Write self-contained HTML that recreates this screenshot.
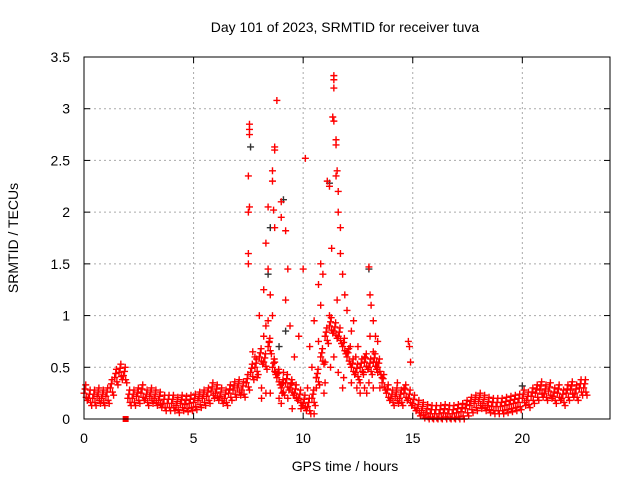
<!DOCTYPE html>
<html><head><meta charset="utf-8"><style>
body{margin:0;background:#fff;}
svg{display:block;font-family:"Liberation Sans",sans-serif;}
</style></head><body>
<svg id="chart" width="640" height="480">
<text x="345" y="32" font-size="14" text-anchor="middle">Day 101 of 2023, SRMTID for receiver tuva</text>
<text x="345" y="471" font-size="14" text-anchor="middle">GPS time / hours</text>
<text transform="translate(18,238) rotate(-90)" font-size="14" text-anchor="middle">SRMTID / TECUs</text>
<g id="grid"></g><g id="marks"></g>
<rect x="84" y="57" width="526" height="362" fill="none" stroke="#000" stroke-width="1"/>
</svg>
<script>
const xTicks=[0,5,10,15,20];
const yTicks=[0,0.5,1,1.5,2,2.5,3,3.5];
const yTickLabels=["0","0.5","1","1.5","2","2.5","3","3.5"];
const baseStart=0, baseStep=0.2;
const baseValues=[0.25,0.2,0.2,0.22,0.2,0.22,0.3,0.4,0.45,0.42,0.2,0.2,0.22,0.25,0.2,0.22,0.2,0.18,0.15,0.15,0.15,0.13,0.15,0.14,0.15,0.16,0.18,0.2,0.22,0.27,0.25,0.22,0.2,0.25,0.28,0.3,0.28,0.35,0.45,0.5,0.6,0.55,0.7,0.5,0.4,0.3,0.35,0.3,0.25,0.2,0.15,0.12,0.2,0.4,0.6,0.8,0.9,0.85,0.8,0.7,0.6,0.5,0.45,0.5,0.55,0.5,0.55,0.5,0.35,0.25,0.2,0.22,0.2,0.25,0.2,0.15,0.1,0.08,0.06,0.05,0.05,0.05,0.06,0.05,0.05,0.06,0.07,0.1,0.13,0.15,0.17,0.15,0.13,0.12,0.12,0.12,0.13,0.14,0.15,0.16,0.2,0.18,0.22,0.25,0.28,0.25,0.27,0.22,0.25,0.2,0.25,0.28,0.25,0.3,0.3];
const spikeTimes=[7.55,7.55,7.55,7.5,7.55,7.5,7.5,7.5,8.0,8.2,8.3,8.4,8.4,8.6,8.6,8.7,8.7,8.8,8.65,8.7,8.6,8.5,9.0,9.0,9.2,9.3,9.2,9.4,8.4,8.2,9.6,9.8,10.0,10.1,10.3,10.5,10.7,10.8,10.9,11.1,11.2,11.3,11.4,11.4,11.4,11.35,11.4,11.5,11.5,11.55,11.5,11.6,11.6,11.7,11.7,11.8,11.9,12.0,12.2,12.3,13.0,13.05,13.1,13.2,13.3,13.2,14.8,14.85,14.9,12.5,12.8,9.5,10.5,8.1,8.3,9.0,7.8,8.9,9.1,10.2,10.6,11.0,12.6,12.9,13.4,13.5,
7.4,7.7,7.9,8.1,8.3,8.5,8.7,8.9,9.1,9.3,9.5,9.7,9.9,10.4,10.6,10.8,11.0,11.2,11.4,11.6,11.8,12.0,12.2,12.4,12.6,12.8,13.0,13.2,13.4,13.6,8.45,8.75,9.05,10.7,10.95,11.25,11.55,11.85,12.15,12.45,12.75,13.05,13.35,14.6,14.3];
const spikeValues=[2.85,2.8,2.75,2.35,2.05,2.0,1.6,1.5,1.0,1.25,1.7,2.05,1.45,2.4,2.3,2.6,2.63,3.08,2.02,1.85,1.0,1.2,2.1,1.95,1.82,1.45,1.15,0.9,0.95,0.8,0.6,0.8,1.45,2.52,0.7,0.95,1.3,1.5,1.4,2.3,2.25,1.65,3.32,3.28,3.2,2.92,2.88,2.7,2.65,2.4,2.35,2.2,2.0,1.85,1.6,1.4,1.2,1.05,0.85,0.95,1.47,1.2,1.1,0.95,0.8,0.65,0.75,0.7,0.55,0.7,0.3,0.1,0.05,0.2,0.25,0.15,0.6,0.45,0.35,0.3,0.4,0.55,0.35,0.25,0.45,0.3,
0.35,0.65,0.4,0.3,0.9,0.25,0.55,0.2,0.45,0.2,0.35,0.2,0.1,0.5,0.3,1.1,0.35,1.0,0.6,0.45,0.3,0.65,0.35,0.6,0.25,0.6,0.35,0.3,0.75,0.4,0.75,0.45,0.25,0.75,0.25,0.5,1.15,0.4,0.7,0.3,0.45,0.8,0.55,0.3,0.35];
const blackTimes=[7.6,8.4,8.5,9.1,9.2,11.2,13.0,20.0,8.9];
const blackValues=[2.63,1.4,1.85,2.12,0.85,2.28,1.45,0.32,0.7];
const sx=t=>84+t*(526/24), sy=v=>419-v*(362/3.5);
const NS="http://www.w3.org/2000/svg";
const grid=document.getElementById('grid'), marks=document.getElementById('marks');
function ln(p,x1,y1,x2,y2,st,dash){const l=document.createElementNS(NS,'line');l.setAttribute('x1',x1);l.setAttribute('y1',y1);l.setAttribute('x2',x2);l.setAttribute('y2',y2);l.setAttribute('stroke',st);if(dash)l.setAttribute('stroke-dasharray',dash);p.appendChild(l);return l;}
xTicks.forEach(t=>{const x=sx(t);
 if(t>0){const g=ln(grid,x,57,x,419,'#aaa','2,3');
 
 }
 ln(grid,x,419,x,413,'#000');ln(grid,x,57,x,63,'#000');
 const tx=document.createElementNS(NS,'text');tx.setAttribute('x',x);tx.setAttribute('y',443);tx.setAttribute('font-size','14');tx.setAttribute('text-anchor','middle');tx.textContent=t;
 
 
 grid.appendChild(tx);});
yTicks.forEach((v,i)=>{const y=sy(v);
 if(v>0&&v<3.5){const g=ln(grid,84,y,610,y,'#aaa','2,3');
 
 }
 ln(grid,84,y,90,y,'#000');ln(grid,610,y,604,y,'#000');
 const tx=document.createElementNS(NS,'text');tx.setAttribute('x',70);tx.setAttribute('y',y+5);tx.setAttribute('font-size','14');tx.setAttribute('text-anchor','end');tx.textContent=yTickLabels[i];
 
 
 grid.appendChild(tx);});
function plus(t,v,c){const x=sx(t),y=sy(v);const p=document.createElementNS(NS,'path');
 p.setAttribute('d',`M${x-3.5},${y}H${x+3.5}M${x},${y-3.5}V${y+3.5}`);p.setAttribute('stroke',c);p.setAttribute('stroke-width','1.4');p.setAttribute('fill','none');
 
 
 marks.appendChild(p);}
baseValues.forEach((v,i)=>{const t=baseStart+i*baseStep;
 plus(t,v,'red');plus(t+0.1,Math.max(0,v-0.04),'red');plus(t+0.05,v+0.04,'red');plus(t+0.15,Math.max(0,v-0.07),'red');plus(t+0.08,v+0.08,'red');});
blackTimes.forEach((t,i)=>plus(t,blackValues[i],'#333'));
spikeTimes.forEach((t,i)=>plus(t,spikeValues[i],'red'));
const sq=document.createElementNS(NS,'rect');sq.setAttribute('x',sx(1.9)-3);sq.setAttribute('y',sy(0)-3);sq.setAttribute('width',6);sq.setAttribute('height',6);sq.setAttribute('fill','red');


marks.appendChild(sq);
</script>
</body></html>
